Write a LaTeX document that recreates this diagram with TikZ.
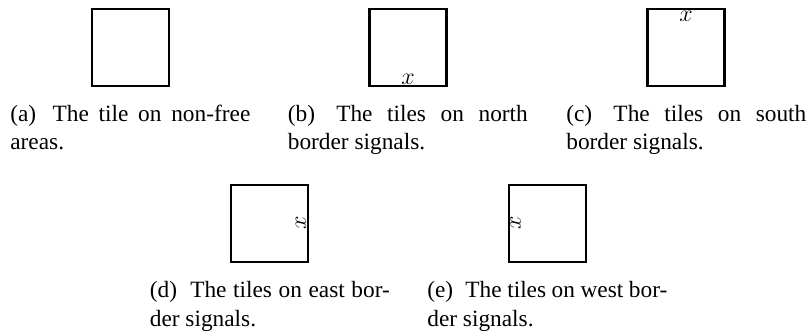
\documentclass[tikz,border=0pt]{standalone}
\usepackage{fontspec}
\setmainfont{Liberation Serif}
\begin{document}
\begin{tikzpicture}[x=0.6pt,y=-0.6pt,
  tile/.style={draw=black, line width=1.4pt, minimum width=46.2pt, minimum height=46.2pt, inner sep=0pt},
  sig/.style={inner sep=1.6pt, font=\fontsize{14}{17}\selectfont},
  capt/.style={anchor=base west, inner sep=0pt, text width=144pt, align=justify, font=\fontsize{14}{17}\selectfont}]
\useasboundingbox (0,0) rectangle (809,334);
% top row
\node[tile] (ta) at (130.5,47.5) {};
\node[tile] (tb) at (408,47.5) {};
\node[tile] (tc) at (686,47.5) {};
\node[sig, anchor=south] (xb) at (tb.south) {$x$};
\node[sig, anchor=north] (xc) at (tc.north) {$x$};
% bottom row
\node[tile] (td) at (269.5,223.2) {};
\node[tile] (te) at (547.2,223.2) {};
\node[sig, anchor=south, rotate=90] (xd) at (td.east) {$x$};
\node[sig, anchor=north, rotate=90] (xe) at (te.west) {$x$};
% captions
\node[capt] (ca) at (10,121.5) {\hyphenpenalty=10000 (a)\hspace{4pt} The tile on non-free\linebreak areas.};
\node[capt] (cb) at (287.5,121.5) {\hyphenpenalty=10000 (b)\hspace{4pt} The tiles on north\linebreak border signals.};
\node[capt] (cc) at (566,121.5) {\hyphenpenalty=10000 (c)\hspace{4pt} The tiles on south\linebreak border signals.};
\node[capt] (cd) at (149.5,298) {\hyphenpenalty=10000 (d)\hspace{4pt} The tiles on east bor-\linebreak der signals.};
\node[capt] (ce) at (427,298) {\hyphenpenalty=10000 (e)\hspace{4pt} The tiles on west bor-\linebreak der signals.};
\end{tikzpicture}
\end{document}
